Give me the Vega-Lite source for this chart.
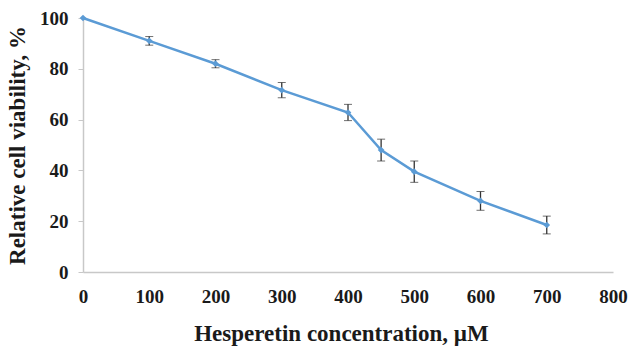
{
  "$schema": "https://vega.github.io/schema/vega-lite/v6.json",
  "width": 530,
  "height": 254,
  "autosize": {"type": "none"},
  "padding": {"left": 83, "top": 18, "right": 27, "bottom": 87},
  "background": "white",
  "config": {"view": {"stroke": null}, "font": "Liberation Serif"},
  "data": {"values": [
    {"conc": 0, "viability": 100, "err": 0},
    {"conc": 100, "viability": 91, "err": 1.7},
    {"conc": 200, "viability": 82, "err": 1.6},
    {"conc": 300, "viability": 71.6, "err": 3.0},
    {"conc": 400, "viability": 62.8, "err": 3.2},
    {"conc": 450, "viability": 48, "err": 4.3},
    {"conc": 500, "viability": 39.5, "err": 4.2},
    {"conc": 600, "viability": 28, "err": 3.7},
    {"conc": 700, "viability": 18.5, "err": 3.5}
  ]},
  "encoding": {
    "x": {"field": "conc", "type": "quantitative",
      "scale": {"domain": [0, 800], "nice": false},
      "axis": {"title": "Hesperetin concentration, µM", "values": [0,100,200,300,400,500,600,700,800],
        "grid": false, "ticks": false, "domainColor": "#c8c8c8", "domainWidth": 1.5,
        "labelFont": "Liberation Serif", "labelFontSize": 19, "labelFontWeight": "bold", "labelColor": "#1a1a1a",
        "labelPadding": 15, "labelFlush": false,
        "titleFont": "Liberation Serif", "titleFontSize": 23, "titleFontWeight": "bold", "titleColor": "#1a1a1a",
        "titlePadding": 16, "titleX": 258}},
    "y": {"field": "viability", "type": "quantitative",
      "scale": {"domain": [0, 100], "nice": false},
      "axis": {"title": "Relative cell viability, %", "values": [0,20,40,60,80,100],
        "grid": false, "ticks": true, "tickSize": 5, "tickColor": "#c8c8c8", "domainColor": "#c8c8c8", "domainWidth": 1.5,
        "labelFont": "Liberation Serif", "labelFontSize": 19, "labelFontWeight": "bold", "labelColor": "#1a1a1a",
        "labelPadding": 10,
        "titleFont": "Liberation Serif", "titleFontSize": 23, "titleFontWeight": "bold", "titleColor": "#1a1a1a",
        "titlePadding": 10}}
  },
  "layer": [
    {
      "transform": [
        {"filter": "datum.err > 0"},
        {"calculate": "datum.viability - datum.err", "as": "lo"},
        {"calculate": "datum.viability + datum.err", "as": "hi"}
      ],
      "mark": {"type": "errorbar", "ticks": {"size": 8, "color": "#333333", "strokeWidth": 1.3}, "rule": {"color": "#333333", "strokeWidth": 1.3}},
      "encoding": {
        "y": {"field": "lo", "type": "quantitative"},
        "y2": {"field": "hi"}
      }
    },
    {
      "mark": {"type": "line", "color": "#5b9bd5", "strokeWidth": 2.5,
        "point": {"shape": "diamond", "size": 45, "filled": true, "color": "#5b9bd5"}}
    }
  ]
}
